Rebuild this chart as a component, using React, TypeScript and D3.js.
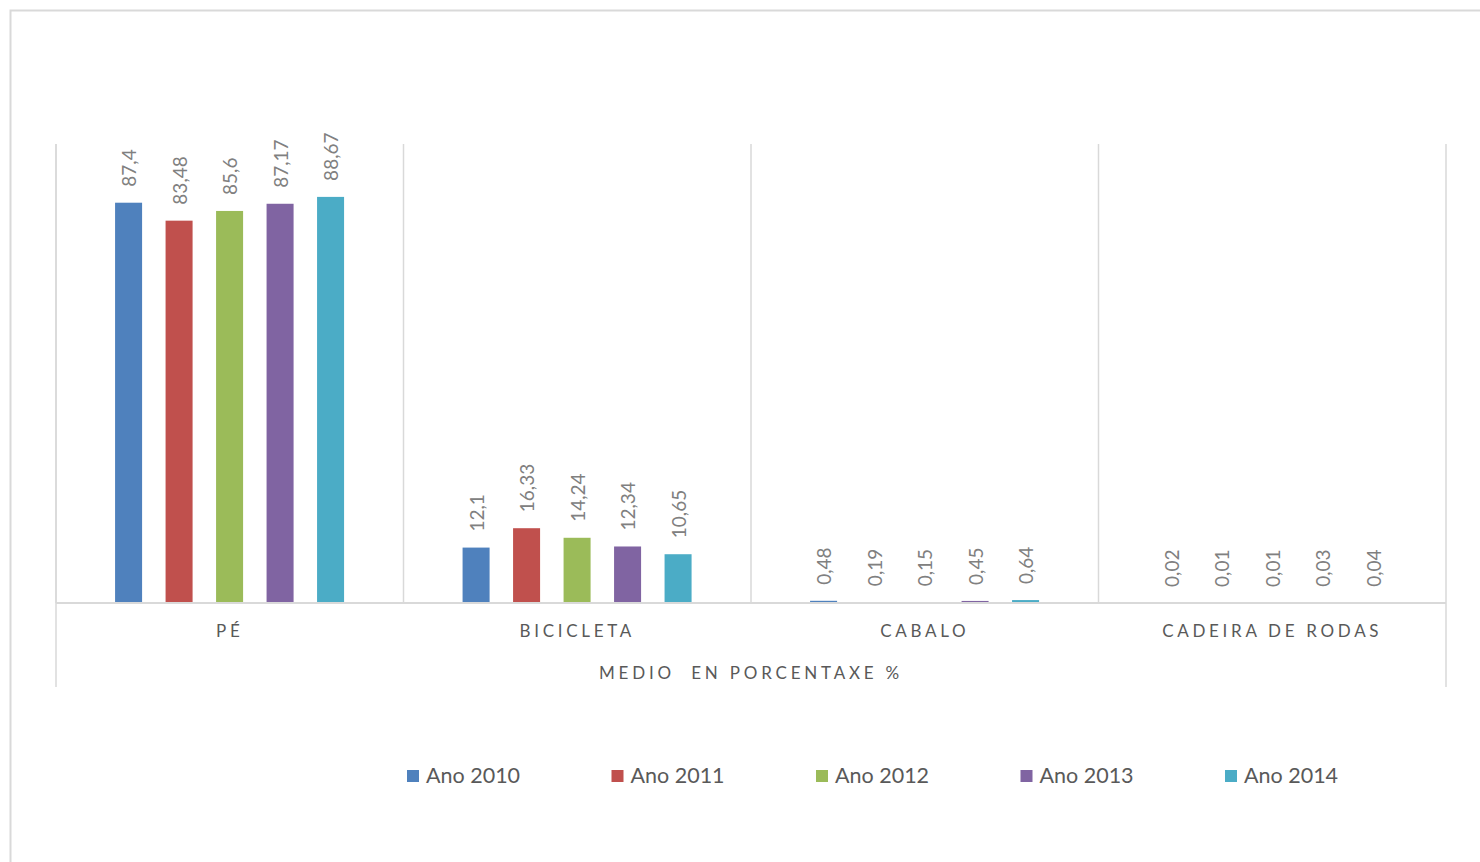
import React from 'react';
import * as d3 from 'd3';

const categories = ['PÉ', 'BICICLETA', 'CABALO', 'CADEIRA DE RODAS'];
const seriesNames = ['Ano 2010', 'Ano 2011', 'Ano 2012', 'Ano 2013', 'Ano 2014'];
const seriesColors = ['#4f81bd', '#c0504d', '#9bbb59', '#8064a2', '#4bacc6'];

// values per series, in category order
const ano2010 = [87.4, 12.1, 0.48, 0.02];
const ano2011 = [83.48, 16.33, 0.19, 0.01];
const ano2012 = [85.6, 14.24, 0.15, 0.01];
const ano2013 = [87.17, 12.34, 0.45, 0.03];
const ano2014 = [88.67, 10.65, 0.64, 0.04];
const seriesValues = [ano2010, ano2011, ano2012, ano2013, ano2014];

const axisTitle = 'MEDIO  EN PORCENTAXE %';

const W = 1480;
const H = 862;
const plot = { left: 56, right: 1446, top: 144, bottom: 603 };
const FONT = 'Lato, "Open Sans", sans-serif';
const GRID = '#d9d9d9';

const fmt = (v: number) => String(v).replace('.', ',');

export default function App() {
  const x0 = d3.scaleBand<string>()
    .domain(categories)
    .range([plot.left, plot.right])
    .padding(0);

  const cw = x0.bandwidth();
  const x1 = d3.scaleBand<string>()
    .domain(seriesNames)
    .range([cw * 0.17, cw * 0.829])
    .paddingInner(0.465)
    .paddingOuter(0);

  const y = d3.scaleLinear().domain([0, 100]).range([plot.bottom, plot.top + 1]);

  const legendX = d3.scalePoint<string>()
    .domain(seriesNames)
    .range([407, 1225]);

  return (
    <svg width={W} height={H} style={{ position: 'absolute', left: 0, top: 0, display: 'block' }}>
      <rect x={0} y={0} width={W} height={H} fill="#fff" />
      <rect x={10.5} y={10.5} width={W + 20} height={H + 20} fill="none" stroke={GRID} strokeWidth={2} />

      {/* category dividers */}
      {categories.map((c) => (
        <line key={c} x1={x0(c)} x2={x0(c)} y1={plot.top} y2={plot.bottom} stroke={GRID} strokeWidth={1.5} />
      ))}
      <line x1={plot.left} x2={plot.left} y1={plot.top} y2={687} stroke={GRID} strokeWidth={1.5} />
      <line x1={plot.right} x2={plot.right} y1={plot.top} y2={687} stroke={GRID} strokeWidth={1.5} />

      {/* bars */}
      {seriesNames.map((s, si) => (
        <g key={s}>
          {categories.map((c, ci) => {
            const v = seriesValues[si][ci];
            const bx = (x0(c) as number) + (x1(s) as number);
            const bw = x1.bandwidth();
            return (
              <g key={c}>
                <rect x={bx} y={y(v)} width={bw} height={plot.bottom - y(v)} fill={seriesColors[si]} />
                <text
                  transform={`translate(${bx + bw / 2},${y(v) - 16}) rotate(-90)`}
                  dominantBaseline="central"
                  fontFamily={FONT}
                  fontSize={19}
                  fill="#808080"
                >
                  {fmt(v)}
                </text>
              </g>
            );
          })}
        </g>
      ))}

      <line x1={plot.left} x2={plot.right} y1={plot.bottom} y2={plot.bottom} stroke={GRID} strokeWidth={2} />

      {/* category labels */}
      {categories.map((c) => (
        <text
          key={c}
          x={(x0(c) as number) + cw / 2}
          y={637}
          textAnchor="middle"
          fontFamily={FONT}
          fontSize={17}
          letterSpacing={3.7}
          fill="#595959"
        >
          {c}
        </text>
      ))}

      <text
        x={(plot.left + plot.right) / 2}
        y={679}
        textAnchor="middle"
        fontFamily={FONT}
        fontSize={17}
        letterSpacing={3.8}
        fill="#595959"
        style={{ whiteSpace: 'pre' }}
      >
        {axisTitle}
      </text>

      {/* legend */}
      {seriesNames.map((s, i) => (
        <g key={s} transform={`translate(${legendX(s)},770)`}>
          <rect x={0} y={0} width={12} height={12} fill={seriesColors[i]} />
          <text x={19} y={13} fontFamily={FONT} fontSize={21.5} fill="#595959">{s}</text>
        </g>
      ))}
    </svg>
  );
}
